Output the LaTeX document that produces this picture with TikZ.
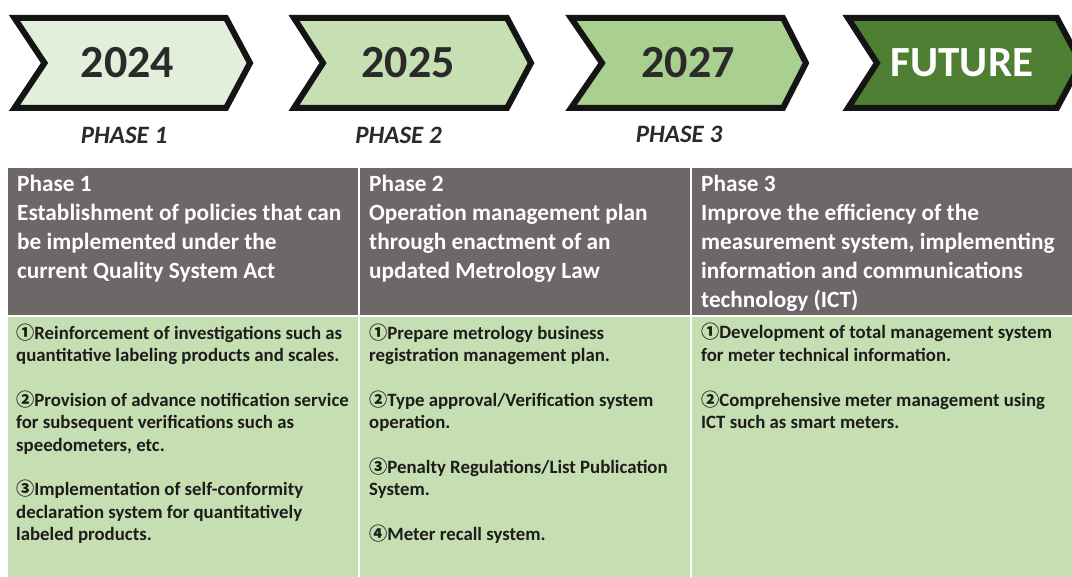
\documentclass[tikz,border=0pt]{standalone}
\usepackage{fontspec}
\setmainfont{Carlito}
\newfontfamily\circfont{Noto Sans CJK JP}
\definecolor{cA}{HTML}{E2EFDA}
\definecolor{cB}{HTML}{C6E0B4}
\definecolor{cC}{HTML}{A9D08E}
\definecolor{cD}{HTML}{4E7F33}
\definecolor{hdrgray}{HTML}{6D6767}
\definecolor{bodygreen}{HTML}{C6DFB2}
\definecolor{darktext}{HTML}{2A2A2A}
\definecolor{bodytext}{HTML}{1C1C1C}
\newcommand{\cn}[1]{{\circfont\fontsize{18.2}{18}\selectfont #1}}
\begin{document}
\begin{tikzpicture}[x=1pt,y=-1pt,
  chev/.style={draw=black!92, line width=6pt, line join=miter, miter limit=10},
  year/.style={font=\bfseries\fontsize{46}{50}\selectfont, text=darktext, inner sep=0pt},
  phaselbl/.style={font=\bfseries\itshape\fontsize{25}{28}\selectfont, text=darktext, inner sep=0pt},
  hdrcell/.style={fill=hdrgray, draw=white, line width=1.5pt},
  bodycell/.style={fill=bodygreen, draw=white, line width=1.5pt},
  hdr/.style={anchor=base west, inner sep=0pt, align=left, text=white, font=\bfseries\fontsize{23.3}{29}\selectfont},
  bodytxt/.style={anchor=base west, inner sep=0pt, align=left, text=bodytext, font=\bfseries\fontsize{18.8}{22.4}\selectfont},
]
\useasboundingbox (0,0) rectangle (1072,577);
\fill[white] (0,0) rectangle (1072,577);
\begin{scope}
\clip (0,0) rectangle (1072,577);
% chevrons
\draw[chev, fill=cA] (14.5,18) -- (226,18) -- (250,63) -- (226,108) -- (14.5,108) -- (44.5,63) -- cycle;
\draw[chev, fill=cB] (294,18) -- (507,18) -- (531,63) -- (507,108) -- (294,108) -- (323,63) -- cycle;
\draw[chev, fill=cC] (571,18) -- (783,18) -- (806,63) -- (783,108) -- (571,108) -- (602,63) -- cycle;
\draw[chev, fill=cD] (848,18) -- (1057,18) -- (1081,63) -- (1057,108) -- (848,108) -- (877,63) -- cycle;
\node[year] (y1) at (127.5,63) {2024};
\node[year] (y2) at (408,63) {2025};
\node[year] (y3) at (688,63) {2027};
\node[year, text=white, font=\bfseries\fontsize{43}{48}\selectfont] (y4) at (962,63) {FUTURE};
\node[phaselbl] (p1) at (124,135) {PHASE 1};
\node[phaselbl] (p2) at (398.5,135) {PHASE 2};
\node[phaselbl] (p3) at (679,134) {PHASE 3};
% table
\draw[hdrcell] (7,167) rectangle (359,316);
\draw[hdrcell] (359,167) rectangle (691,316);
\draw[hdrcell] (691,167) rectangle (1080,316);
\draw[bodycell] (7,316) rectangle (359,590);
\draw[bodycell] (359,316) rectangle (691,590);
\draw[bodycell] (691,316) rectangle (1080,590);
\end{scope}
\node[hdr] (h1) at (17,279) {Phase 1\\Establishment of policies that can\\be implemented under the\\current Quality System Act};
\node[hdr] (h2) at (369,279) {Phase 2\\Operation management plan\\through enactment of an\\updated Metrology Law};
\node[hdr] (h3) at (701,308) {Phase 3\\Improve the efficiency of the\\measurement system, implementing\\information and communications\\technology (ICT)};
\node[bodytxt] (b1) at (16,540.6) {\cn{①}Reinforcement of investigations such as\\quantitative labeling products and scales.\\[22.4pt]\cn{②}Provision of advance notification service\\for subsequent verifications such as\\speedometers, etc.\\[22.4pt]\cn{③}Implementation of self-conformity\\declaration system for quantitatively\\labeled products.};
\node[bodytxt] (b2) at (369,540.6) {\cn{①}Prepare metrology business\\registration management plan.\\[22.4pt]\cn{②}Type approval/Verification system\\operation.\\[22.4pt]\cn{③}Penalty Regulations/List Publication\\System.\\[22.4pt]\cn{④}Meter recall system.};
\node[bodytxt] (b3) at (701,428.6) {\cn{①}Development of total management system\\for meter technical information.\\[22.4pt]\cn{②}Comprehensive meter management using\\ICT such as smart meters.};
\end{tikzpicture}
\end{document}
